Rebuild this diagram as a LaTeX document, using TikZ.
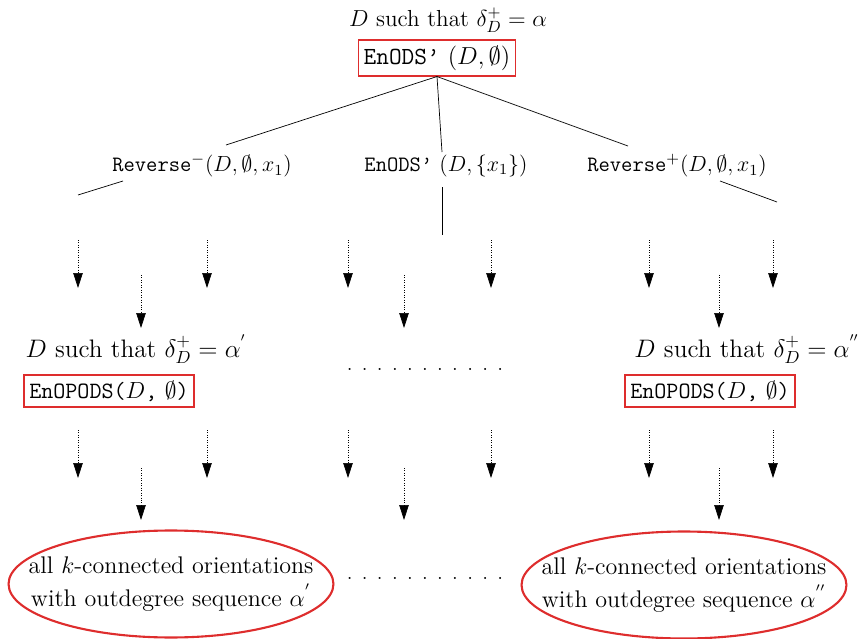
\RequirePackage{fix-cm}
\documentclass[tikz,border=0pt]{standalone}
\usetikzlibrary{arrows.meta,shapes.geometric}

\definecolor{callred}{RGB}{222,45,45}
\newcommand{\dotrow}{\foreach \i in {1,...,10}{.\hspace{5.3pt}}.}

\begin{document}
\begin{tikzpicture}[x=0.02cm, y=-0.02cm,
    call box/.style={draw=callred, line width=1.1pt, inner sep=3pt},
    result/.style={align=center, font=\fontsize{13.7}{17}\selectfont, inner sep=0pt},
    leaf ring/.style={draw=callred, line width=1.2pt},
    down/.style={densely dotted, -{Triangle[length=3mm, width=1.9mm]}}]
  \useasboundingbox (0,0) rectangle (867,639);

  % root of the search tree
  \node[font=\fontsize{13.2}{16}\selectfont] (top) at (448,20) {$D$ such that $\delta^+_D=\alpha$};
  \node[call box, font=\fontsize{14}{17}\selectfont] (root) at (437,58) {\texttt{EnODS\textquoteright} $(D,\emptyset)$};

  % first level calls
  \node[font=\fontsize{12.5}{15}\selectfont] (revm) at (202,166) {\texttt{Reverse}$^-(D,\emptyset,x_1)$};
  \node[font=\fontsize{12.5}{15}\selectfont] (mid)  at (446,166) {\texttt{EnODS\textquoteright} $(D,\{x_1\})$};
  \node[font=\fontsize{12.5}{15}\selectfont] (revp) at (677,166) {\texttt{Reverse}$^+(D,\emptyset,x_1)$};

  \coordinate (a1) at (226,145);
  \coordinate (a2) at (442,152);
  \coordinate (a3) at (628,146);
  \draw (root.south) -- (a1);
  \draw (root.south) -- (a2);
  \draw (root.south) -- (a3);

  % branches going on below
  \coordinate (b1) at (123,181); \coordinate (c1) at (78,195);
  \coordinate (b2) at (442,187); \coordinate (c2) at (442,235);
  \coordinate (b3) at (720,181); \coordinate (c3) at (777,202);
  \draw (b1) -- (c1);
  \draw (b2) -- (c2);
  \draw (b3) -- (c3);

  % dotted arrows, first row
  \foreach \x in {78,207,348,491,649,773}
    \draw[down] (\x,240) -- (\x,288);
  \foreach \x in {141,404,719}
    \draw[down] (\x,275) -- (\x,328);

  % second level
  \node[font=\fontsize{14.4}{17}\selectfont] (lsub) at (136,349) {$D$ such that $\delta^+_D=\alpha^{'}$};
  \node[call box, font=\fontsize{13.3}{16}\selectfont] (lcall) at (109,391) {\texttt{EnOPODS(}$D$\texttt{,} $\emptyset$\texttt{)}};
  \node (dots1) at (425,369) {\fontsize{12}{14}\selectfont\dotrow};
  \node[font=\fontsize{14.4}{17}\selectfont] (rsub) at (747,349) {$D$ such that $\delta^+_D=\alpha^{''}$};
  \node[call box, font=\fontsize{13.3}{16}\selectfont] (rcall) at (710,391) {\texttt{EnOPODS(}$D$\texttt{,} $\emptyset$\texttt{)}};

  % dotted arrows, second row
  \foreach \x in {78,207,348,491,649,773}
    \draw[down] (\x,430) -- (\x,478);
  \foreach \x in {141,404,719}
    \draw[down] (\x,468) -- (\x,520);

  % leaves
  \node[result] (lres) at (171,584) {all $k$-connected orientations\\[2pt] with outdegree sequence $\alpha^{'}$};
  \draw[leaf ring] (lres.center) ellipse [x radius=3.25cm, y radius=1.07cm];
  \node (dots2) at (425,578) {\fontsize{12}{14}\selectfont\dotrow};
  \node[result] (rres) at (684,585) {all $k$-connected orientations\\[2pt] with outdegree sequence $\alpha^{''}$};
  \draw[leaf ring] (rres.center) ellipse [x radius=3.25cm, y radius=1.07cm];
\end{tikzpicture}
\end{document}
